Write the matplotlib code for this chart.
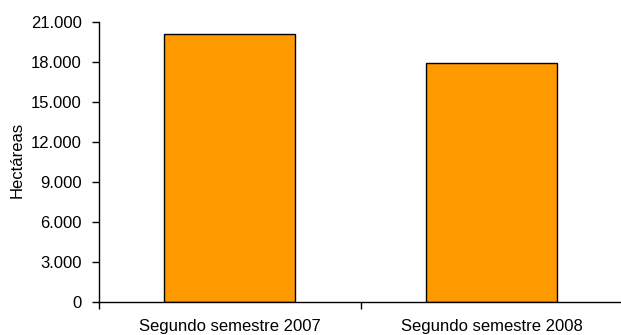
import matplotlib
matplotlib.use("Agg")
import matplotlib.pyplot as plt
from matplotlib.ticker import FuncFormatter, FixedLocator

categories = ["Segundo semestre 2007", "Segundo semestre 2008"]
values = [20100, 17900]
yticks = [0, 3000, 6000, 9000, 12000, 15000, 18000, 21000]

plt.rcParams['font.family'] = ['Liberation Sans', 'DejaVu Sans']

fig = plt.figure(figsize=(6.21, 3.35), dpi=100)
W, H = 621, 335
x0, x1 = 98.5, 623.0
y_top, y_bot = 22.0, 301.5
ax = fig.add_axes([x0 / W, 1 - y_bot / H, (x1 - x0) / W, (y_bot - y_top) / H])

xs = list(range(len(categories)))
ax.bar(xs, values, width=0.5, color='#FF9900', edgecolor='black', linewidth=1.0, zorder=2)

ax.set_xlim(-0.5, len(categories) - 0.5)
ax.set_ylim(0, 21000)
ax.set_yticks(yticks)
ax.yaxis.set_major_formatter(FuncFormatter(lambda v, p: f"{int(v):,}".replace(",", ".")))
ax.tick_params(axis='y', labelsize=12, length=5, width=1, pad=7, colors='black')

ax.set_xticks(xs)
ax.set_xticklabels(categories)
ax.tick_params(axis='x', which='major', length=0, labelsize=12, pad=12.5)
ax.xaxis.set_minor_locator(FixedLocator([-0.5, 0.5, 1.5]))
ax.tick_params(axis='x', which='minor', length=5, width=1, direction='out')

for s in ['top', 'right']:
    ax.spines[s].set_visible(False)
for s in ['left', 'bottom']:
    ax.spines[s].set_linewidth(1)
    ax.spines[s].set_color('black')

fig.text(17.5 / W, 1 - 160 / H, "Hectáreas", rotation=90, ha='center', va='center', fontsize=12)

fig.savefig("out.png", dpi=100)
